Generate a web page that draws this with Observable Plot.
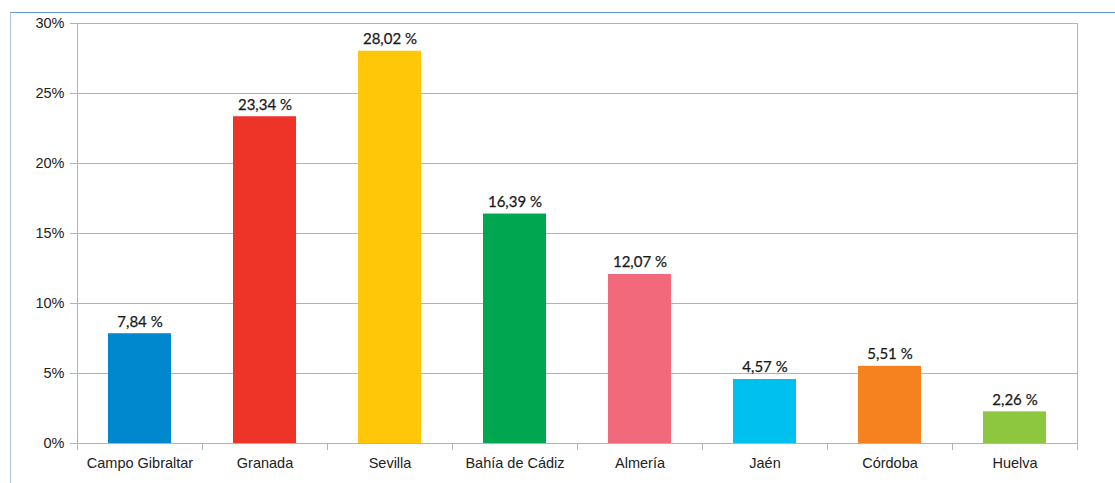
<!DOCTYPE html>
<html><head><meta charset="utf-8">
<script src="https://cdn.jsdelivr.net/npm/d3@7"></script>
<script src="https://cdn.jsdelivr.net/npm/@observablehq/plot@0.6"></script>
<style>
body{margin:0;background:#fff;}
#wrap{position:relative;width:1115px;height:483px;overflow:hidden;}
#frame{position:absolute;left:10px;top:12px;width:1105px;height:480px;border-top:1px solid #5b9bd5;border-left:1px solid #a9c7e3;box-sizing:border-box;}
#chart{position:absolute;left:0;top:0;}
</style></head>
<body><div id="wrap"><div id="frame"></div><div id="chart"></div></div>
<script>
const categories = ["Campo Gibraltar","Granada","Sevilla","Bahía de Cádiz","Almería","Jaén","Córdoba","Huelva"];
const values = [7.84, 23.34, 28.02, 16.39, 12.07, 4.57, 5.51, 2.26];
const colors = ["#0088ce","#ee3329","#ffc708","#00a650","#f2697c","#00c0f0","#f5821f","#8dc63f"];
const yTicks = [0,5,10,15,20,25,30];

const data = categories.map((c,i)=>({cat:c, value:values[i], color:colors[i], label:values[i].toFixed(2).replace(".",",")+" %"}));
const half = 62.5;
const plot = Plot.plot({
  width:1115, height:483,
  marginLeft:77, marginRight:38, marginTop:23, marginBottom:40,
  style:{fontFamily:"'Liberation Sans', Arial, sans-serif", fontSize:"14px", color:"#222", background:"transparent"},
  x:{domain:categories, paddingInner:0.5, paddingOuter:0.25, label:null},
  y:{domain:[0,30], label:null},
  marks:[
    Plot.ruleY(yTicks, {y:d=>d, stroke:"#b3b3b3", strokeWidth:1}),
    Plot.barY(data, {x:"cat", y:"value", fill:"color"}),
    Plot.ruleX(categories, {x:d=>d, dx:-half, y1:d=>d===categories[0]?30:0, y2:-0.5, stroke:"#b3b3b3"}),
    Plot.ruleX([categories[categories.length-1]], {x:d=>d, dx:half, y1:30, y2:-0.5, stroke:"#b3b3b3"}),
    Plot.axisY({ticks:yTicks, tickFormat:d=>d+"%", tickSize:7, stroke:"#b3b3b3", tickPadding:6, fill:"#222", fontSize:14.5}),
    Plot.axisX({tickSize:0, tickPadding:14, fill:"#222", fontSize:14.5}),
    Plot.text(data, {x:"cat", y:"value", text:"label", dy:-12, fill:"#1a1a1a", stroke:"#1a1a1a", strokeWidth:0.25, fontSize:15, fontFamily:"Lato, sans-serif"})
  ]
});
document.getElementById("chart").appendChild(plot);
</script></body></html>
